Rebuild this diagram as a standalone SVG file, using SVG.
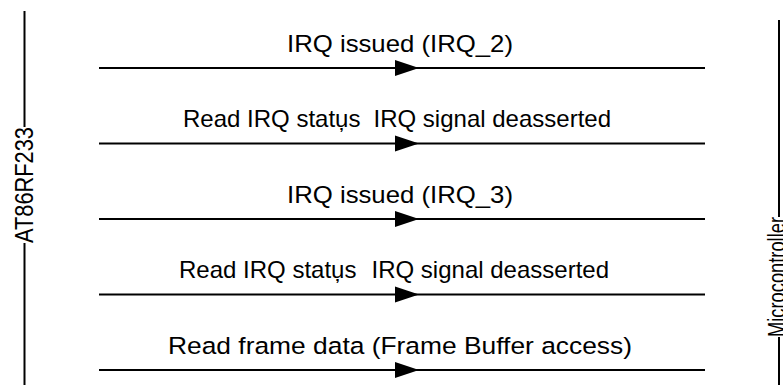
<svg xmlns="http://www.w3.org/2000/svg" width="783" height="385" viewBox="0 0 783 385">
<style>
text{font-family:"Liberation Sans",Arial,sans-serif;fill:#000}
.lbl{font-size:24.5px}
.lbs{font-size:24px}
.ln{stroke:#000;stroke-width:2;fill:none}
.ah{fill:#000}
</style>
<rect width="783" height="385" fill="#fff"/>
<g id="at86rf233">
<line class="ln" x1="24.5" y1="11" x2="24.5" y2="127"/>
<line class="ln" x1="24.5" y1="243" x2="24.5" y2="385"/>
<text transform="translate(33,185) rotate(-90)" text-anchor="middle" font-size="25" textLength="116" lengthAdjust="spacingAndGlyphs">AT86RF233</text>
</g>
<g id="microcontroller">
<line class="ln" x1="779" y1="20" x2="779" y2="217"/>
<line class="ln" x1="779" y1="337" x2="779" y2="385"/>
<text transform="translate(785,277) rotate(-90)" text-anchor="middle" font-size="23" textLength="120" lengthAdjust="spacingAndGlyphs">Microcontroller</text>
</g>
<g id="connectors">
<line class="ln" x1="99" y1="68" x2="705" y2="68"/>
<path class="ah" d="M395,60 L419,68 L395,76 Z"/>
<line class="ln" x1="99" y1="143.5" x2="705" y2="143.5"/>
<path class="ah" d="M395,135.5 L419,143.5 L395,151.5 Z"/>
<line class="ln" x1="99" y1="219" x2="705" y2="219"/>
<path class="ah" d="M395,211 L419,219 L395,227 Z"/>
<line class="ln" x1="99" y1="294.5" x2="705" y2="294.5"/>
<path class="ah" d="M395,286.5 L419,294.5 L395,302.5 Z"/>
<line class="ln" x1="99" y1="370" x2="705" y2="370"/>
<path class="ah" d="M395,362 L419,370 L395,378 Z"/>
</g>
<g id="labels">
<text class="lbl" x="287" y="51.5" textLength="226" lengthAdjust="spacingAndGlyphs">IRQ issued (IRQ_2)</text>
<text class="lbs" x="183" y="127">Read IRQ statu̦s</text>
<text class="lbs" x="611" y="127" text-anchor="end">IRQ signal deasserted</text>
<text class="lbl" x="287" y="202.5" textLength="226" lengthAdjust="spacingAndGlyphs">IRQ issued (IRQ_3)</text>
<text class="lbs" x="179" y="278">Read IRQ statu̦s</text>
<text class="lbs" x="609" y="278" text-anchor="end">IRQ signal deasserted</text>
<text class="lbl" x="168" y="353.5" textLength="464" lengthAdjust="spacingAndGlyphs">Read frame data (Frame Buffer access)</text>
</g>
</svg>
